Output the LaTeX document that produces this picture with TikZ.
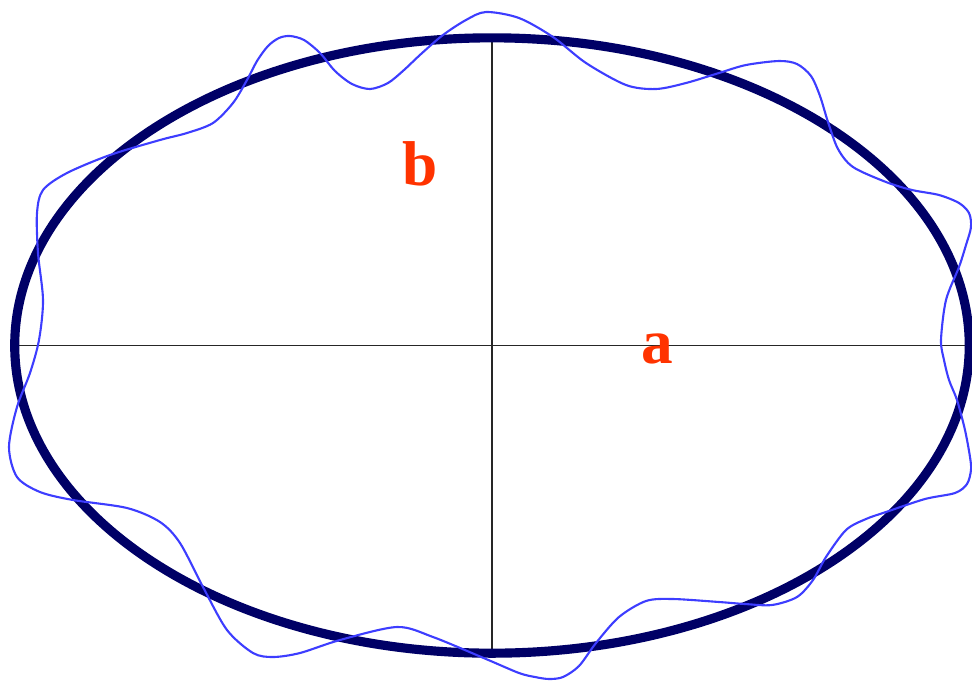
\documentclass[tikz,border=0pt]{standalone}
\usepackage{fontspec}
\setmainfont{Liberation Serif}
\definecolor{ellnavy}{HTML}{000066}
\definecolor{lblred}{HTML}{FF3300}
\definecolor{wavblue}{HTML}{3D3DFF}

\begin{document}
\begin{tikzpicture}[
    x=0.01cm, y=-0.01cm,
    axis/.style={draw=black!85, line width=0.35pt},
    orbit/.style={draw=ellnavy, line width=2.6pt},
    wave/.style={draw=wavblue, line width=0.6pt},
    lbl/.style={text=lblred, inner sep=0pt,
                font=\fontsize{18}{18}\selectfont\bfseries}
  ]
  \useasboundingbox (0,0) rectangle (972,681);
  \coordinate (o) at (492,345.5);

  % axes
  \draw[axis] (o) ++(-477,0) -- ++(954,0);
  \draw[axis] (o) ++(0,-307.5) -- ++(0,615);

  % ellipse and perturbed curve
  \draw[orbit] (o) ellipse [x radius=4.77cm, y radius=3.075cm];
  \draw[wave] plot[smooth cycle, tension=0.5] coordinates {
    (486,12) (519,18) (553,37) (586,63) (626,85) (656,89) (686,83)
    (719,73) (746,65) (779,61) (797,64) (811,76) (820,96) (828,122)
    (838,149) (853,167) (886,182) (912,190) (939,195) (959,203)
    (969,213) (971,227) (966,245) (959,267) (946,300) (941,340)
    (944,360) (949,380) (957,400) (965,430) (970,457) (971,470)
    (967,484) (955,493) (925,499) (886,512) (866,519) (846,530)
    (826,557) (813,580) (797,597) (772,605) (745,604) (719,602)
    (673,599) (646,601) (619,617) (596,643) (579,666) (563,677)
    (549,679) (535,677) (519,673) (486,659) (433,637) (397,627)
    (340,640) (300,653) (273,657) (253,653) (227,630) (203,587)
    (180,543) (160,522) (127,508) (73,500) (40,492) (17,477) (9,447)
    (17,407) (30,373) (39,340) (43,300) (38,253) (37,213) (43,190)
    (67,173) (110,155) (160,140) (187,133) (213,123) (233,103)
    (247,80) (257,61) (268,46) (279,38) (290,36) (304,40) (320,53)
    (335,71) (352,84) (370,89) (388,83) (404,70) (421,54) (443,35)
    (466,20)};

  \node[lbl] (b) at (420,164) {b};
  \node[lbl] (a) at (657,349) {a};
\end{tikzpicture}
\end{document}
